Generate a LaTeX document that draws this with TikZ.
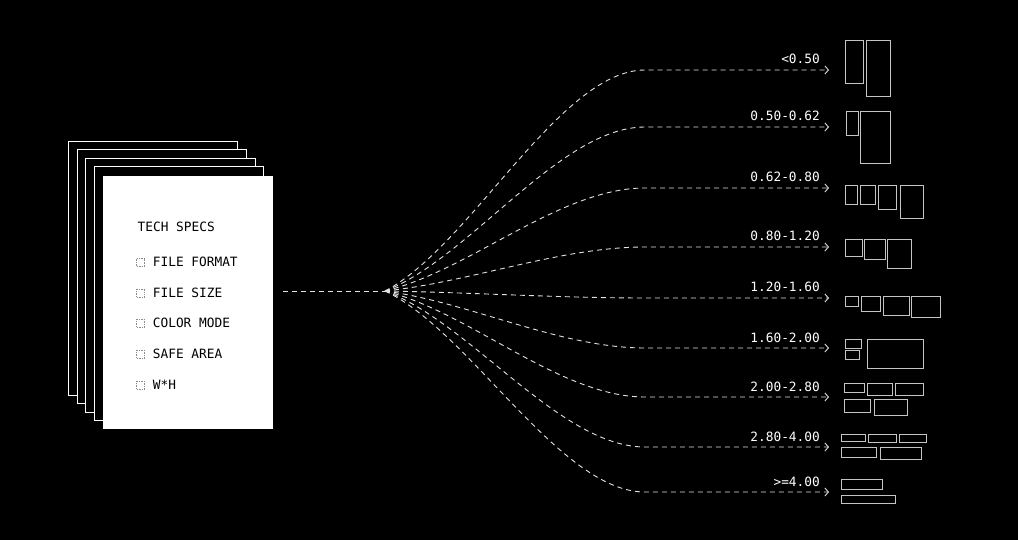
\documentclass[tikz,border=0pt]{standalone}
\usepackage{fontspec}
\newfontfamily\monof{DejaVu Sans Mono}
\usetikzlibrary{arrows.meta,calc}
\definecolor{linec}{HTML}{E2E2E2}
\definecolor{iconc}{HTML}{C4C4C4}
\definecolor{boxc}{HTML}{8A8A8A}
\begin{document}
\begin{tikzpicture}[x=1pt,y=-1pt,
  backpage/.style={draw=white,fill=black,line width=0.9pt},
  frontpage/.style={fill=white,draw=white,line width=0.9pt},
  spectext/.style={font=\monof\fontsize{12.8}{14}\selectfont,text=black,inner sep=0pt,anchor=base west},
  lab/.style={font=\monof\fontsize{12.8}{14}\selectfont,text=white,inner sep=0pt,anchor=base east},
  chk/.style={draw=boxc,densely dotted,line width=0.7pt},
  fan/.style={draw=linec,line width=0.9pt,dash pattern=on 5pt off 4pt},
  icon/.style={draw=iconc,line width=0.8pt}]
\useasboundingbox[fill=black] (0,0) rectangle (1018,540);
% stacked pages
\draw[backpage] (68,141) rectangle (237,395);
\draw[backpage] (77,149) rectangle (246,403);
\draw[backpage] (85,158) rectangle (255,412);
\draw[backpage] (94,166) rectangle (263,420);
\path[frontpage] (103,176) rectangle (272,428);
\node[inner sep=0pt,minimum width=169pt,minimum height=252pt] (page) at (187.5,302) {};
% texts
\node[spectext] (title) at (137.5,231.7) {TECH SPECS};
\foreach \yy/\txt [count=\k] in {266.7/FILE FORMAT,297.3/FILE SIZE,327.3/COLOR MODE,358.3/SAFE AREA,389.3/W*H}{
  \draw[chk] (136.5,\yy-8) rectangle (144.5,\yy);
  \node[spectext] (item\k) at (152.7,\yy) {\txt};
}
% connectors
\coordinate (h0) at (283,291);
\coordinate (fo) at (385,291);
\draw[fan] (h0) -- (fo);
\foreach \y/\lab [count=\i] in {70/{<0.50},127/{0.50-0.62},188/{0.62-0.80},247/{0.80-1.20},298/{1.20-1.60},348/{1.60-2.00},397/{2.00-2.80},447/{2.80-4.00},492/{>=4.00}}{
  \pgfmathsetmacro\cy{291+0.2*(\y-291)}
  \coordinate (e\i) at (829,\y);
  \draw[fan,-{Straight Barb[length=3.5pt,width=8pt]}] (fo) .. controls (470,\cy) and (560,\y) .. (645,\y) -- (e\i);
  \node[lab] (l\i) at (820,\y-6) {\lab};
}
% icons
\draw[icon] (845.3,40.3) rectangle (863.7,83.3);
\draw[icon] (866,40.3) rectangle (890.7,96.7);
\draw[icon] (846,111.3) rectangle (858.7,135.3);
\draw[icon] (860.7,111.3) rectangle (890,163.3);
\draw[icon] (845.3,185) rectangle (857.3,204.7);
\draw[icon] (860.7,185) rectangle (875.3,204.7);
\draw[icon] (878.3,185) rectangle (896.7,209.7);
\draw[icon] (900,185) rectangle (923,218.7);
\draw[icon] (845.3,239.3) rectangle (862.3,256.7);
\draw[icon] (864.3,239.3) rectangle (885,259.7);
\draw[icon] (887,239.3) rectangle (911.7,268);
\draw[icon] (845.3,296.3) rectangle (858.7,306);
\draw[icon] (861,296.3) rectangle (880.7,311);
\draw[icon] (883.3,296.3) rectangle (909.3,315.7);
\draw[icon] (911,296.3) rectangle (940,317.3);
\draw[icon] (845.3,339.3) rectangle (861.7,348.3);
\draw[icon] (845.3,350.3) rectangle (859.3,359.3);
\draw[icon] (867.3,339.3) rectangle (923.7,368);
\draw[icon] (844.3,383.3) rectangle (864,392.7);
\draw[icon] (867,383.3) rectangle (892.7,395.7);
\draw[icon] (895.3,383.3) rectangle (923.7,395.7);
\draw[icon] (844.3,399) rectangle (870.7,412.7);
\draw[icon] (874,399) rectangle (907,415.7);
\draw[icon] (841,434.3) rectangle (865.7,441.3);
\draw[icon] (868,434.3) rectangle (896.7,442.3);
\draw[icon] (899.3,434.3) rectangle (926.7,442.3);
\draw[icon] (841,447) rectangle (876.7,457.3);
\draw[icon] (880,447) rectangle (921,459);
\draw[icon] (841.7,479.3) rectangle (882.7,489.3);
\draw[icon] (841.7,495) rectangle (895.7,503.3);
\end{tikzpicture}
\end{document}
